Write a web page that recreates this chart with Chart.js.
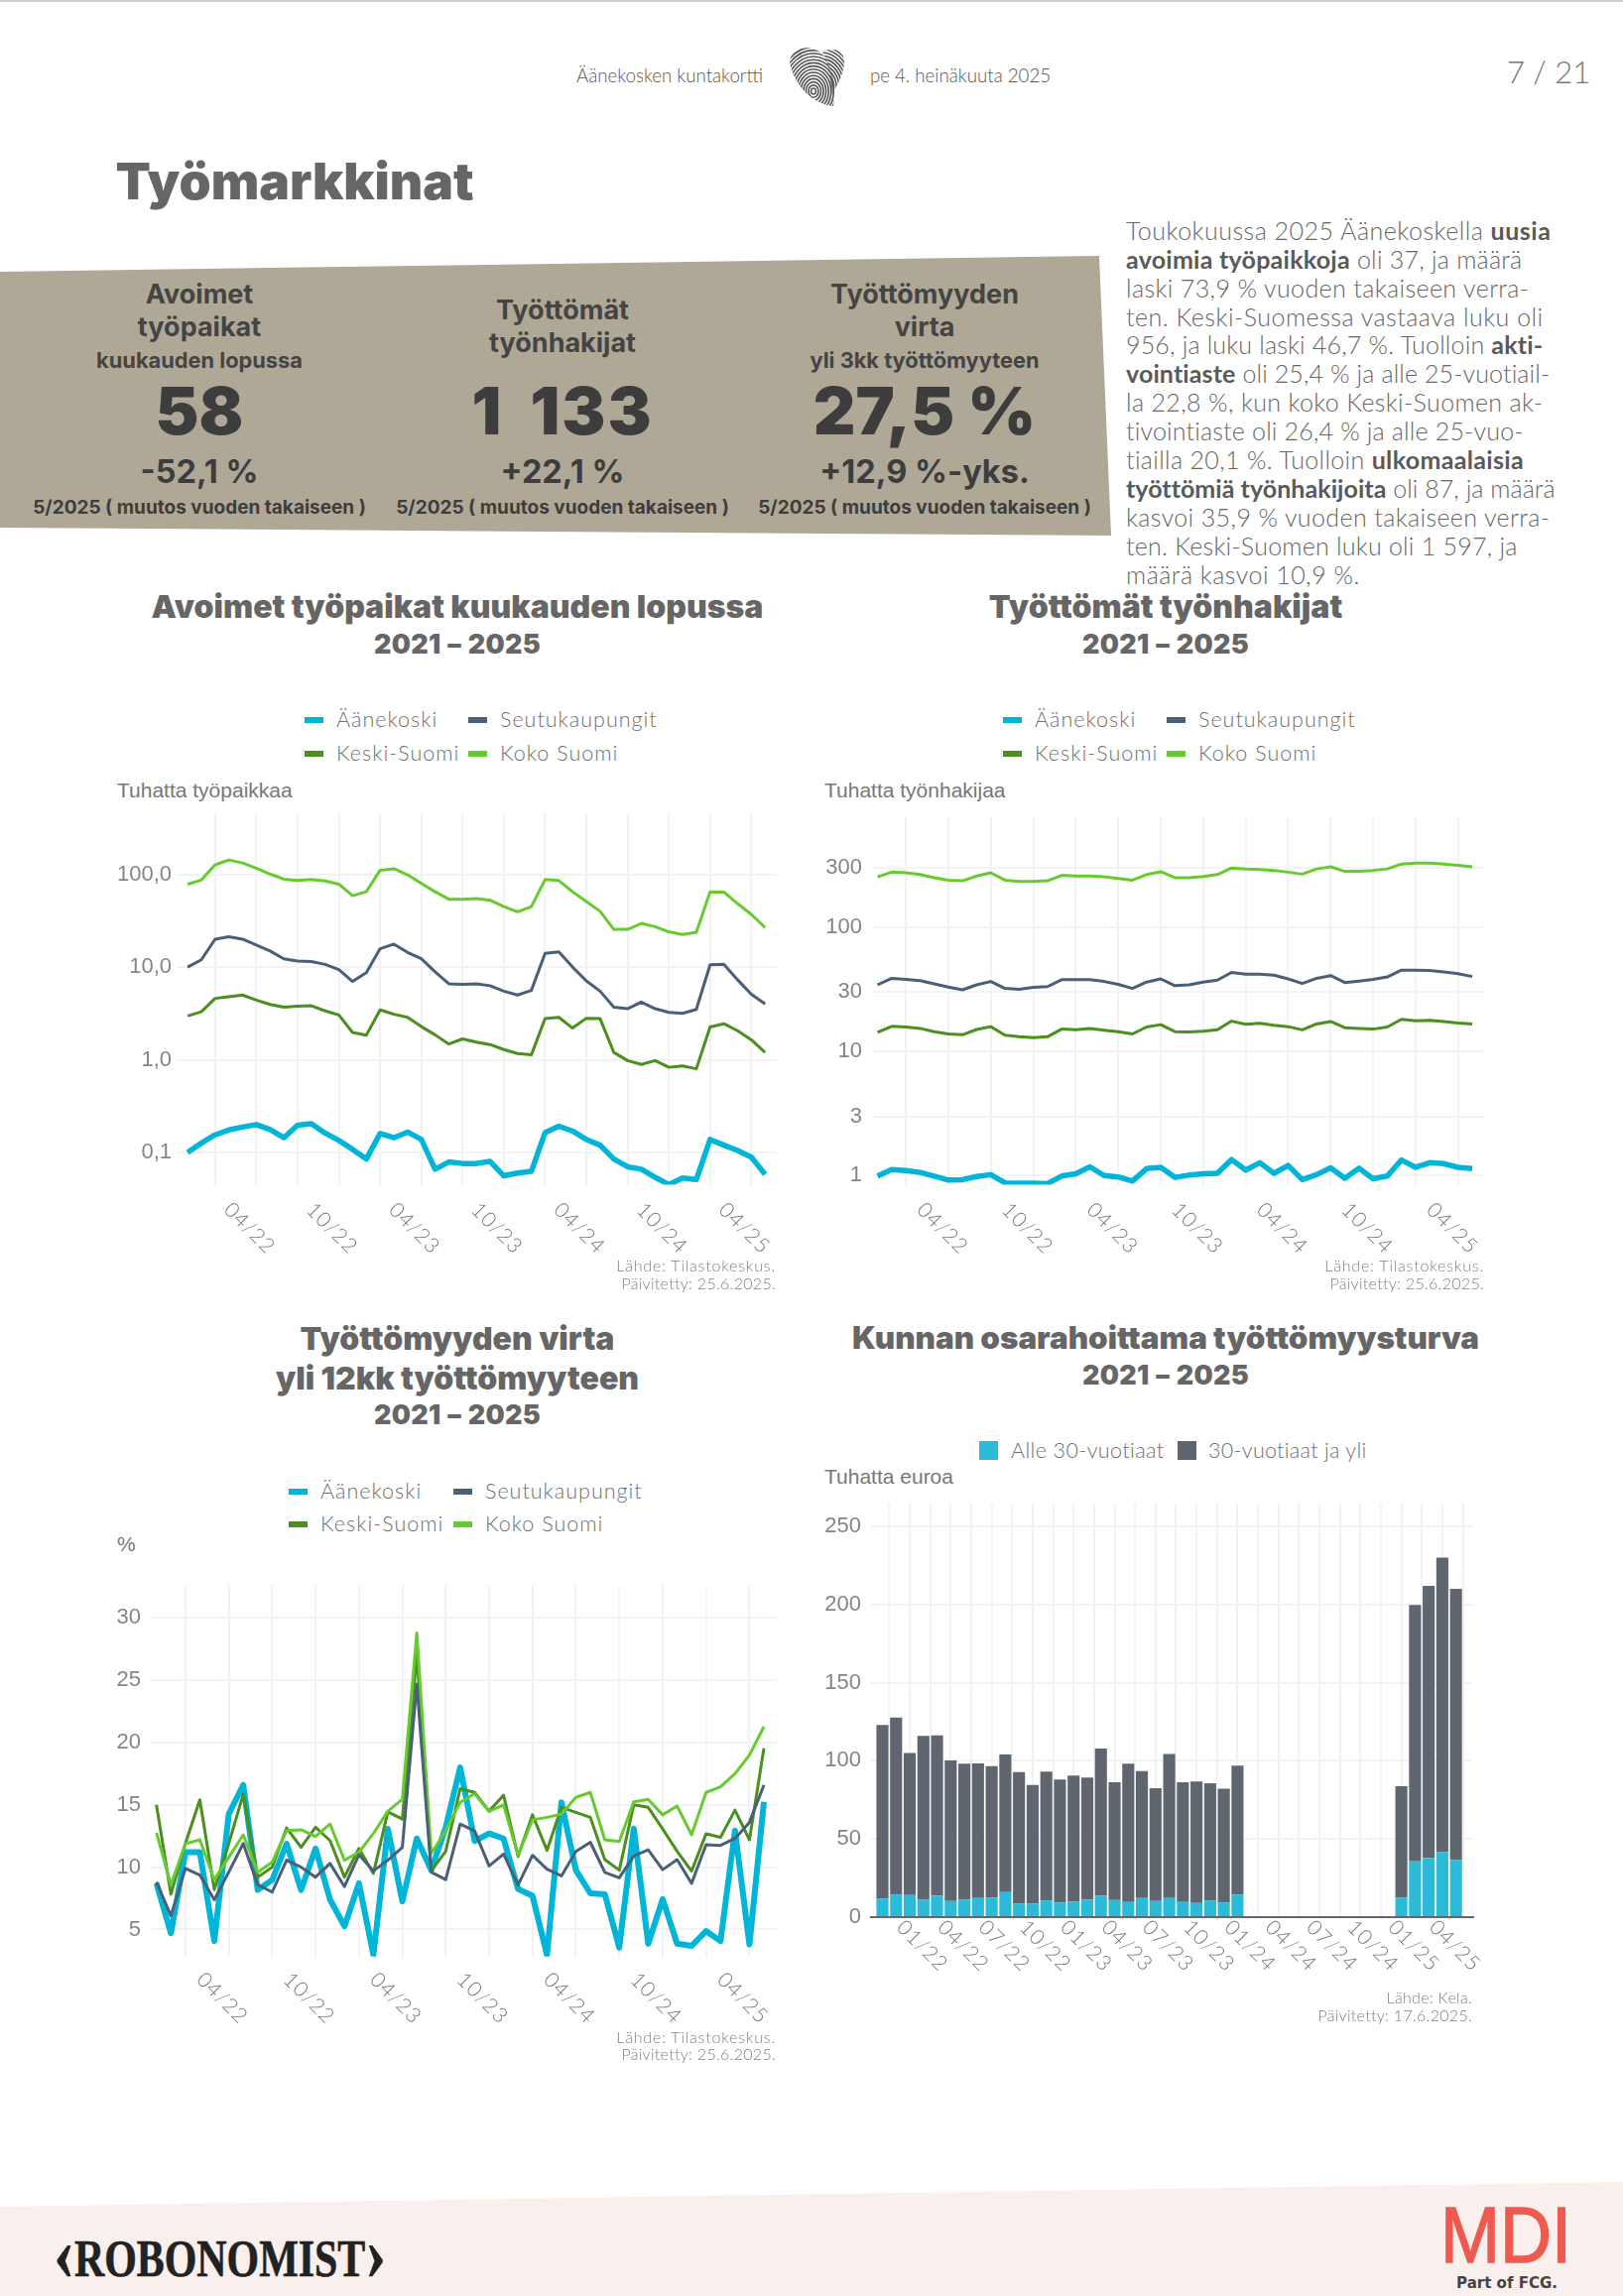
<!DOCTYPE html>
<html lang="fi">
<head>
<meta charset="utf-8">
<title>Työmarkkinat</title>
<script src="https://cdn.jsdelivr.net/npm/chart.js@4/dist/chart.umd.min.js"></script>
<style>
html, body { margin: 0; padding: 0; background: #fff; }
#page { position: relative; width: 1636px; height: 2315px; overflow: hidden; font-family: Lato, sans-serif; color: #666; }
#page canvas { position: absolute; }
.t { position: absolute; white-space: nowrap; transform: translate(-50%, -50%); }
.l { position: absolute; white-space: nowrap; transform: translateY(-50%); }
.r { position: absolute; white-space: nowrap; transform: translate(-100%, -50%); }
.title { font: 900 32px Inter, sans-serif; color: #666; }
.years { font: 900 27px Inter, sans-serif; color: #666; letter-spacing: .3px; word-spacing: 1px; }
.kh { font: 700 27px Inter, sans-serif; color: #444; }
.ks { font: 700 21.8px Inter, sans-serif; color: #444; }
.kv { font: 900 66px Inter, sans-serif; color: #3d3d3d; }
.kc { font: 700 32.5px Inter, sans-serif; color: #3d3d3d; }
.kf { font: 700 19px Inter, sans-serif; color: #3d3d3d; }
.body { font: 300 25px Lato, sans-serif; color: #666; }
.body b { font-weight: 700; color: #5a5a5a; }
.leg { font: 300 21.5px Lato, sans-serif; color: #6f6f6f; letter-spacing: 1px; }
.unit { font: 21px "Liberation Sans", sans-serif; color: #777; }
.src { font: 300 16px Lato, sans-serif; color: #808080; letter-spacing: .3px; }
.sw { position: absolute; }
</style>
</head>
<body>
<div id="page">
  <div style="position:absolute;left:0;top:0;width:1636px;height:2px;background:#ccc"></div>
  <svg style="position:absolute;left:0;top:0" width="1636" height="2315">
    <defs>
      <clipPath id="lobeA"><path d="M796 62 C798 46 820 44 830 56 C840 70 843 90 840 107 C822 106 800 88 796 62 Z"></path></clipPath>
      <clipPath id="lobeB"><path d="M829 53 C838 46 852 50 851 64 C850 76 843 88 838 96 C838 80 836 64 829 53 Z"></path></clipPath>
    </defs>
    <g id="printA" clip-path="url(#lobeA)" fill="none" stroke="#555" stroke-width="1.6"></g>
    <g id="printB" clip-path="url(#lobeB)" fill="none" stroke="#555" stroke-width="1.6"></g>
    <polygon points="0,274 1108,258 1120,540 0,532" fill="#b0a897"></polygon>
    <polygon points="0,2225 1636,2200 1636,2315 0,2315" fill="#f9efed"></polygon>
  </svg>

  <div class="t" style="left:675px;top:76px;font:300 18.7px Lato,sans-serif;color:#555">Äänekosken kuntakortti</div>
  <div class="t" style="left:968px;top:76px;font:300 18.7px Lato,sans-serif;color:#555">pe 4. heinäkuuta 2025</div>
  <div class="t" style="left:1561px;top:72px;font:300 31px Lato,sans-serif;color:#777">7 / 21</div>
  <div class="t" style="left:297px;top:182px;font:900 51.5px Inter,sans-serif;color:#666">Työmarkkinat</div>

  <div class="t kh" style="left:201px;top:296px">Avoimet</div>
  <div class="t kh" style="left:201px;top:329px">työpaikat</div>
  <div class="t ks" style="left:201px;top:363px">kuukauden lopussa</div>
  <div class="t kv" style="left:201px;top:414px">58</div>
  <div class="t kc" style="left:201px;top:475px">-52,1 %</div>
  <div class="t kf" style="left:201px;top:511px">5/2025 ( muutos vuoden takaiseen )</div>

  <div class="t kh" style="left:567px;top:312px">Työttömät</div>
  <div class="t kh" style="left:567px;top:345px">työnhakijat</div>
  <div class="t kv" style="left:567px;top:414px;letter-spacing:2px;word-spacing:12px">1 133</div>
  <div class="t kc" style="left:567px;top:475px">+22,1 %</div>
  <div class="t kf" style="left:567px;top:511px">5/2025 ( muutos vuoden takaiseen )</div>

  <div class="t kh" style="left:932px;top:296px">Työttömyyden</div>
  <div class="t kh" style="left:932px;top:329px">virta</div>
  <div class="t ks" style="left:932px;top:363px">yli 3kk työttömyyteen</div>
  <div class="t kv" style="left:932px;top:414px">27,5 %</div>
  <div class="t kc" style="left:932px;top:475px">+12,9 %-yks.</div>
  <div class="t kf" style="left:932px;top:511px">5/2025 ( muutos vuoden takaiseen )</div>

  <div class="l body" style="left:1135px;top:232px;letter-spacing:.5px">Toukokuussa 2025 Äänekoskella <b>uusia</b></div>
  <div class="l body" style="left:1135px;top:261px;letter-spacing:.25px"><b>avoimia työpaikkoja</b> oli 37, ja määrä</div>
  <div class="l body" style="left:1135px;top:290px;letter-spacing:.39px">laski 73,9 % vuoden takaiseen verra-</div>
  <div class="l body" style="left:1135px;top:319px;letter-spacing:.5px">ten. Keski-Suomessa vastaava luku oli</div>
  <div class="l body" style="left:1135px;top:347px;letter-spacing:.18px">956, ja luku laski 46,7 %. Tuolloin <b>akti-</b></div>
  <div class="l body" style="left:1135px;top:376px;letter-spacing:.12px"><b>vointiaste</b> oli 25,4 % ja alle 25-vuotiail-</div>
  <div class="l body" style="left:1135px;top:405px;letter-spacing:.36px">la 22,8 %, kun koko Keski-Suomen ak-</div>
  <div class="l body" style="left:1135px;top:434px;letter-spacing:.18px">tivointiaste oli 26,4 % ja alle 25-vuo-</div>
  <div class="l body" style="left:1135px;top:463px;letter-spacing:.34px">tiailla 20,1 %. Tuolloin <b>ulkomaalaisia</b></div>
  <div class="l body" style="left:1135px;top:492px;letter-spacing:.05px"><b>työttömiä työnhakijoita</b> oli 87, ja määrä</div>
  <div class="l body" style="left:1135px;top:521px;letter-spacing:.39px">kasvoi 35,9 % vuoden takaiseen verra-</div>
  <div class="l body" style="left:1135px;top:550px;letter-spacing:.24px">ten. Keski-Suomen luku oli 1 597, ja</div>
  <div class="l body" style="left:1135px;top:579px;letter-spacing:.5px">määrä kasvoi 10,9 %.</div>

  <!-- kaavio 1 -->
  <div class="t title" style="left:461px;top:611px">Avoimet työpaikat kuukauden lopussa</div>
  <div class="t years" style="left:461px;top:649px">2021 – 2025</div>
  <div class="sw" style="left:307px;top:723px;width:19px;height:6px;background:#00b5d8"></div>
  <div class="l leg" style="left:339px;top:725px">Äänekoski</div>
  <div class="sw" style="left:472px;top:723px;width:19px;height:6px;background:#4a5f78"></div>
  <div class="l leg" style="left:504px;top:725px">Seutukaupungit</div>
  <div class="sw" style="left:307px;top:757px;width:19px;height:6px;background:#4a8f1f"></div>
  <div class="l leg" style="left:339px;top:759px">Keski-Suomi</div>
  <div class="sw" style="left:472px;top:757px;width:19px;height:6px;background:#66cc2e"></div>
  <div class="l leg" style="left:504px;top:759px">Koko Suomi</div>
  <div class="l unit" style="left:118px;top:797px">Tuhatta työpaikkaa</div>
  <canvas id="chartJobs" width="690" height="470" style="left:100px;top:800px"></canvas>
  <div class="r src" style="left:782px;top:1275px;letter-spacing:.8px">Lähde: Tilastokeskus.</div>
  <div class="r src" style="left:782px;top:1293px">Päivitetty: 25.6.2025.</div>

  <!-- kaavio 2 -->
  <div class="t title" style="left:1175px;top:611px">Työttömät työnhakijat</div>
  <div class="t years" style="left:1175px;top:649px">2021 – 2025</div>
  <div class="sw" style="left:1011px;top:723px;width:19px;height:6px;background:#00b5d8"></div>
  <div class="l leg" style="left:1043px;top:725px">Äänekoski</div>
  <div class="sw" style="left:1176px;top:723px;width:19px;height:6px;background:#4a5f78"></div>
  <div class="l leg" style="left:1208px;top:725px">Seutukaupungit</div>
  <div class="sw" style="left:1011px;top:757px;width:19px;height:6px;background:#4a8f1f"></div>
  <div class="l leg" style="left:1043px;top:759px">Keski-Suomi</div>
  <div class="sw" style="left:1176px;top:757px;width:19px;height:6px;background:#66cc2e"></div>
  <div class="l leg" style="left:1208px;top:759px">Koko Suomi</div>
  <div class="l unit" style="left:831px;top:797px">Tuhatta työnhakijaa</div>
  <canvas id="chartSeekers" width="700" height="470" style="left:800px;top:800px"></canvas>
  <div class="r src" style="left:1496px;top:1275px;letter-spacing:.8px">Lähde: Tilastokeskus.</div>
  <div class="r src" style="left:1496px;top:1293px">Päivitetty: 25.6.2025.</div>

  <!-- kaavio 3 -->
  <div class="t title" style="left:461px;top:1349px">Työttömyyden virta</div>
  <div class="t title" style="left:461px;top:1389px">yli 12kk työttömyyteen</div>
  <div class="t years" style="left:461px;top:1426px">2021 – 2025</div>
  <div class="sw" style="left:291px;top:1501px;width:19px;height:6px;background:#00b5d8"></div>
  <div class="l leg" style="left:323px;top:1503px">Äänekoski</div>
  <div class="sw" style="left:457px;top:1501px;width:19px;height:6px;background:#4a5f78"></div>
  <div class="l leg" style="left:489px;top:1503px">Seutukaupungit</div>
  <div class="sw" style="left:291px;top:1534px;width:19px;height:6px;background:#4a8f1f"></div>
  <div class="l leg" style="left:323px;top:1536px">Keski-Suomi</div>
  <div class="sw" style="left:457px;top:1534px;width:19px;height:6px;background:#66cc2e"></div>
  <div class="l leg" style="left:489px;top:1536px">Koko Suomi</div>
  <div class="l unit" style="left:118px;top:1557px">%</div>
  <canvas id="chartFlow" width="690" height="470" style="left:100px;top:1576px"></canvas>
  <div class="r src" style="left:782px;top:2053px;letter-spacing:.8px">Lähde: Tilastokeskus.</div>
  <div class="r src" style="left:782px;top:2070px">Päivitetty: 25.6.2025.</div>

  <!-- kaavio 4 -->
  <div class="t title" style="left:1175px;top:1349px;font-size:31.4px">Kunnan osarahoittama työttömyysturva</div>
  <div class="t years" style="left:1175px;top:1386px">2021 – 2025</div>
  <div class="sw" style="left:987px;top:1453px;width:19px;height:19px;background:#2bbbd8"></div>
  <div class="l leg" style="left:1019px;top:1462px;letter-spacing:.4px">Alle 30-vuotiaat</div>
  <div class="sw" style="left:1187px;top:1453px;width:19px;height:19px;background:#5f6670"></div>
  <div class="l leg" style="left:1218px;top:1462px;letter-spacing:.3px">30-vuotiaat ja yli</div>
  <div class="l unit" style="left:831px;top:1489px">Tuhatta euroa</div>
  <canvas id="chartBenefit" width="700" height="520" style="left:800px;top:1493px"></canvas>
  <div class="r src" style="left:1484px;top:2013px">Lähde: Kela.</div>
  <div class="r src" style="left:1484px;top:2031px">Päivitetty: 17.6.2025.</div>

  <!-- alatunniste -->
  <div class="l" style="left:54px;top:2277px;font:700 53px 'Liberation Serif',serif;color:#222;-webkit-text-stroke:.6px #222;transform:translateY(-50%) scaleX(.79);transform-origin:left center"><span style="font-size:80px;line-height:0;vertical-align:-3px">‹</span>ROBONOMIST<span style="font-size:80px;line-height:0;vertical-align:-3px">›</span></div>
  <div class="l" style="left:1452px;top:2254px;font:400 80px 'Liberation Sans',sans-serif;color:#ef5a50;-webkit-text-stroke:1.5px #ef5a50;transform:translateY(-50%) scaleX(.9);transform-origin:left center">MDI</div>
  <div class="t" style="left:1519px;top:2302px;font:700 15px 'DejaVu Sans',sans-serif;color:#444">Part of FCG.</div>
</div>

<script>
var months = ['11/21','12/21','01/22','02/22','03/22','04/22','05/22','06/22','07/22','08/22','09/22','10/22','11/22','12/22','01/23','02/23','03/23','04/23','05/23','06/23','07/23','08/23','09/23','10/23','11/23','12/23','01/24','02/24','03/24','04/24','05/24','06/24','07/24','08/24','09/24','10/24','11/24','12/24','01/25','02/25','03/25','04/25','05/25'];

var names = ['Äänekoski', 'Seutukaupungit', 'Keski-Suomi', 'Koko Suomi'];

// avoimet tyopaikat, tuhatta
var jobsAanekoski = [.1,.126,.155,.175,.188,.2,.177,.144,.197,.204,.162,.135,.108,.085,.16,.144,.166,.138,.066,.079,.076,.076,.08,.056,.06,.0625,.164,.192,.17,.138,.12,.085,.07,.066,.054,.045,.053,.051,.138,.12,.105,.089,.058];
var jobsSeutu = [10,12,20,21.3,20,17.3,14.9,12.3,11.6,11.5,10.7,9.4,7,8.7,15.8,17.7,14.4,12.3,8.9,6.6,6.5,6.6,6.3,5.5,5,5.6,14.1,14.6,10,7.1,5.5,3.7,3.56,4.2,3.56,3.25,3.17,3.5,10.6,10.7,7.3,5.1,4];
var jobsKeski = [2.97,3.3,4.6,4.8,5,4.4,3.96,3.7,3.8,3.83,3.37,3.04,1.97,1.84,3.45,3.1,2.87,2.28,1.86,1.48,1.68,1.55,1.46,1.29,1.17,1.13,2.78,2.87,2.2,2.81,2.78,1.2,.98,.89,.98,.83,.86,.8,2.26,2.45,2.06,1.64,1.2];
var jobsKoko = [78.6,87,127,143,133,117,101,89,86,88,85,78.6,59,65,111,115,99,80,65,54,54,55,52.6,45,39.5,45,88,86,65,51,40,25.5,25.5,29.6,27.3,24,22.5,23.8,65,64.5,48.5,37,26.7];

// tyottomat tyonhakijat, tuhatta
var seekAanekoski = [.99,1.117,1.098,1.06,.99,.919,.927,.983,1.017,.873,.866,.866,.859,.99,1.034,1.175,1,.975,.903,1.136,1.165,.967,1.008,1.034,1.043,1.345,1.107,1.268,1.043,1.205,.927,1.017,1.155,.95,1.145,.942,.99,1.334,1.165,1.268,1.246,1.165,1.136];
var seekSeutu = [34.3,38.7,38,37.1,34.9,32.9,31.3,34.3,36.5,32.1,31.6,32.7,33.2,37.7,37.7,37.7,36.5,34.6,32.1,36.1,38.3,33.8,34.3,36.1,37.4,43.2,41.8,41.8,41,38.3,35.2,38.7,40.7,35.8,36.8,38,39.7,45,45,44.7,43.5,42.1,40];
var seekKeski = [14.2,15.9,15.7,15.3,14.4,13.8,13.6,15,15.8,13.5,13.1,12.9,13.1,15.1,14.9,15.3,14.8,14.4,13.8,15.7,16.4,14.4,14.3,14.5,14.9,17.5,16.5,16.8,16.2,15.8,14.9,16.6,17.4,15.5,15.3,15.1,15.7,18.1,17.6,17.8,17.4,16.9,16.6];
var seekKoko = [254,277,274,265,250,239,236,258,274,239,233,233,236,261,258,258,254,246,239,265,279,250,250,256,265,299,294,291,286,277,267,294,306,281,281,286,294,322,328,328,322,314,306];

// tyottomyyden virta yli 12kk, %
var flowAanekoski = [8.7,4.7,11.2,11.2,4.07,14.26,16.6,8.17,8.97,11.88,8.17,11.5,7.4,5.26,8.7,2.96,13.07,7.25,12.3,9.76,13.2,18,12.1,12.7,12.3,8.25,7.7,2.96,15.2,9.76,7.9,7.83,3.55,13.1,3.86,7.43,3.86,3.68,4.87,4.07,12.94,3.8,15.24];
var flowSeutu = [8.8,6.1,9.9,9.37,7.38,9.6,11.9,8.6,8,10.56,10,9.2,10.3,8.44,11,9.7,10.56,11.6,24.7,9.6,9,13.46,12.9,10.1,11.06,8.57,10.95,9.84,9.3,11.27,12,9.58,9.15,10.9,11.4,9.8,10.6,8.7,11.8,11.75,12.3,13.6,16.6];
var flowKeski = [15,7.83,11.9,15.4,8.2,11.9,15.85,9.2,10,13.15,11.6,13.2,12.14,9.2,11.5,9.5,14.44,13.86,27.1,9.7,11.27,16.3,16,14.5,15.77,10.87,14.2,11.35,14.8,14.4,14,10.6,9.76,15,14.8,13.07,11.27,9.68,12.67,12.4,14.58,12.2,19.55];
var flowKoko = [12.76,8.57,11.88,12.2,9,10.8,12.6,9.6,10.4,12.94,13,12.46,13.46,10.56,11.2,12.7,14.5,15.45,28.8,11.1,12.94,15.2,15.9,14.47,15,10.95,13.8,14,14.26,15.6,16,12.2,12.06,15.24,15.45,14.2,14.9,12.6,16,16.45,17.5,19,21.27];

// osarahoitus, tuhatta euroa
var barMonths = ['10/21','11/21','12/21','01/22','02/22','03/22','04/22','05/22','06/22','07/22','08/22','09/22','10/22','11/22','12/22','01/23','02/23','03/23','04/23','05/23','06/23','07/23','08/23','09/23','10/23','11/23','12/23','01/24','02/24','03/24','04/24','05/24','06/24','07/24','08/24','09/24','10/24','11/24','12/24','01/25','02/25','03/25','04/25'];
var under30 = [11.9,14.4,14.1,11.3,13.8,10.3,11.3,12.2,12.5,16,8.8,8.5,10.7,9.4,10,11.3,13.8,11,9.7,12.2,10.3,12.2,9.7,9.1,10.7,9.4,14.4,null,null,null,null,null,null,null,null,null,null,null,12.5,35.7,37.9,41.7,36.4];
var over30 = [111,113.2,90.9,104.7,102.5,90,86.8,86.2,84.1,88,84,76.1,82.4,78.6,80.6,78,94,75.2,88.4,81.2,72.1,92.2,76.5,77.7,74.9,72.7,82.5,null,null,null,null,null,null,null,null,null,null,null,71.2,164,174,188.3,173.6];

var jobsTicks = [0.1, 1, 10, 100];
var jobsTickLabels = ['0,1', '1,0', '10,0', '100,0'];
var seekTicks = [1, 3, 10, 30, 100, 300];
var seekTickLabels = ['1', '3', '10', '30', '100', '300'];
var flowTicks = [5, 10, 15, 20, 25, 30];
var benefitTicks = [0, 50, 100, 150, 200, 250];

var gridColor = '#f3f3f5';
var tickColor = '#787878';

// sormenjalki logoon
function fingerprint(id, cx, cy) {
    var g = document.getElementById(id), out = '';
    for (var r = 3; r < 70; r += 3.2) {
        out += '<ellipse cx="' + cx + '" cy="' + cy + '" rx="' + r * 0.8 + '" ry="' + r + '"></ellipse>';
    }
    g.innerHTML = out;
}
fingerprint('printA', 820, 92);
fingerprint('printB', 828, 88);

// akselin vinot kuukausiotsikot: chart.js kaantaa ne aina toisin pain
var slantedLabels = {
    id: 'slantedLabels',
    afterDraw: function(chart, args, opts) {
        var ctx = chart.ctx, x = chart.scales.x;
        ctx.save();
        ctx.fillStyle = tickColor;
        ctx.font = '300 21px Lato, sans-serif';
        ctx.letterSpacing = '1px';
        ctx.textAlign = 'center';
        ctx.textBaseline = 'middle';
        x.ticks.forEach(function(t, i) {
            if (!t.label) return;
            ctx.save();
            ctx.translate(x.getPixelForTick(i) + opts.dx, chart.chartArea.bottom + opts.dy);
            ctx.rotate(Math.PI / 4);
            ctx.fillText(t.label, 0, 0);
            ctx.restore();
        });
        ctx.restore();
    }
};

function series(values) {
    return values.map(function(v, i) { return {x: i, y: v}; });
}

function setTicks(values) {
    return function(scale) {
        scale.ticks = values.map(function(v) { return {value: v}; });
    };
}

function yAxis(type, min, max, values, labels, box, pad) {
    return {
        type: type,
        min: min,
        max: max,
        afterBuildTicks: setTicks(values),
        afterFit: function(scale) { scale.width = box; },
        border: {display: false},
        grid: {color: gridColor, lineWidth: 2, drawTicks: false},
        ticks: {
            autoSkip: false,
            padding: pad,
            color: '#858585',
            font: {family: 'Liberation Sans', size: 22},
            callback: function(v, i) { return labels ? labels[i] : String(v); }
        }
    };
}

function monthAxis(min, max) {
    var idx = [];
    months.forEach(function(m, i) {
        if (['01', '04', '07', '10'].indexOf(m.slice(0, 2)) >= 0) idx.push(i);
    });
    return {
        type: 'linear',
        min: min,
        max: max,
        afterBuildTicks: setTicks(idx),
        border: {display: false},
        grid: {color: gridColor, lineWidth: 2, drawTicks: false},
        ticks: {
            display: false,
            callback: function(v) {
                var m = months[v];
                return m && (m.slice(0, 2) === '04' || m.slice(0, 2) === '10') ? m : '';
            }
        }
    };
}

function lineChart(id, data, xAxis, y, padding, dx, dy, thick) {
    var colors = ['#00b5d8', '#4a5f78', '#4a8f1f', '#66cc2e'];
    var drawOrder = [4, 1, 3, 2];
    new Chart(document.getElementById(id).getContext('2d'), {
        type: 'line',
        data: {
            datasets: data.map(function(values, i) {
                return {
                    label: names[i],
                    data: series(values),
                    borderColor: colors[i],
                    backgroundColor: colors[i],
                    borderWidth: i === 0 ? thick : 3,
                    borderJoinStyle: 'round',
                    pointRadius: 0,
                    tension: 0,
                    clip: 0,
                    order: drawOrder[i]
                };
            })
        },
        options: {
            responsive: false,
            animation: false,
            layout: {padding: padding},
            plugins: {legend: {display: false}, title: {display: false}, tooltip: {enabled: false}, slantedLabels: {dx: dx, dy: dy}},
            scales: {x: xAxis, y: y}
        },
        plugins: [slantedLabels]
    });
}

lineChart('chartJobs', [jobsAanekoski, jobsSeutu, jobsKeski, jobsKoko],
    monthAxis(-0.8, 42.85),
    yAxis('logarithmic', 0.0449, 457, jobsTicks, jobsTickLabels, 78, 5),
    {top: 20, right: 7, bottom: 75.5}, -7, 44, 5.5);

lineChart('chartSeekers', [seekAanekoski, seekSeutu, seekKeski, seekKoko],
    monthAxis(-0.39, 42.81),
    yAxis('logarithmic', 0.844, 778, seekTicks, seekTickLabels, 79, 10),
    {top: 20, right: 4.4, bottom: 75.5}, -6, 44, 5.5);

lineChart('chartFlow', [flowAanekoski, flowSeutu, flowKeski, flowKoko],
    monthAxis(-0.46, 42.89),
    yAxis('linear', 2.83, 32.64, flowTicks, null, 51, 9),
    {top: 20, right: 7, bottom: 73.3}, -6.7, 42, 6);

// 1,5 kuukauden ruudukko, joka toinen viiva on otsikoitu
var barTicks = [], barTickLabels = [];
barMonths.forEach(function(m, i) {
    if (i % 3 === 0) {
        barTicks.push(i + 0.5);
        barTickLabels.push(i === 0 ? '' : m);
        if (i < 42) { barTicks.push(i + 2); barTickLabels.push(''); }
    }
});

new Chart(document.getElementById('chartBenefit').getContext('2d'), {
    type: 'bar',
    data: {
        datasets: [
            {label: 'Alle 30-vuotiaat', data: series(under30), backgroundColor: '#2bbbd8', categoryPercentage: 1, barPercentage: 0.88},
            {label: '30-vuotiaat ja yli', data: series(over30), backgroundColor: '#5f6670', categoryPercentage: 1, barPercentage: 0.88}
        ]
    },
    options: {
        responsive: false,
        animation: false,
        layout: {padding: {top: 20, right: 15, bottom: 80}},
        plugins: {legend: {display: false}, title: {display: false}, tooltip: {enabled: false}, slantedLabels: {dx: -8, dy: 29}},
        scales: {
            x: {
                type: 'linear',
                stacked: true,
                offset: false,
                min: -0.835,
                max: 43.26,
                afterBuildTicks: setTicks(barTicks),
                border: {display: true, color: '#666', width: 2},
                grid: {color: gridColor, lineWidth: 2, drawTicks: false, offset: false},
                ticks: {display: false, callback: function(v, i) { return barTickLabels[i]; }}
            },
            y: Object.assign(yAxis('linear', 0, 264.4, benefitTicks, null, 78, 10), {stacked: true})
        }
    },
    plugins: [slantedLabels]
});
</script>
</body>
</html>
